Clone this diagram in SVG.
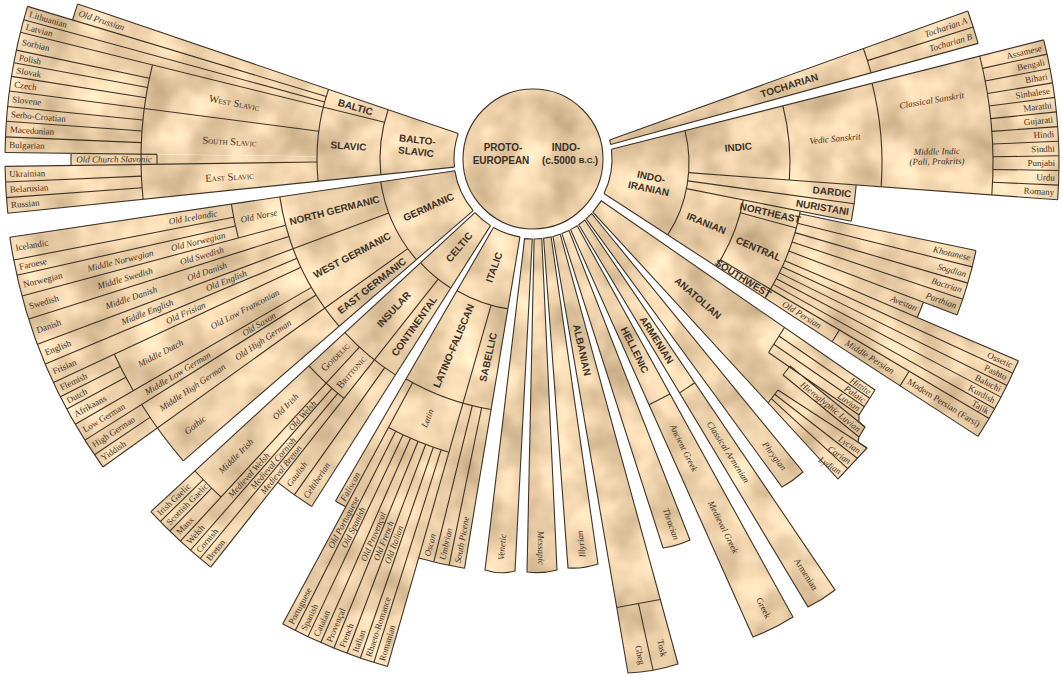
<svg xmlns="http://www.w3.org/2000/svg" width="1062" height="678" viewBox="0 0 1062 678">
<defs>
<filter id="parch" filterUnits="userSpaceOnUse" x="-700" y="-700" width="1800" height="1500" color-interpolation-filters="sRGB">
<feTurbulence type="fractalNoise" baseFrequency="0.022" numOctaves="3" seed="5" result="n"/>
<feColorMatrix in="n" type="matrix" values="0.4 0 0 0 0.73 0.4 0 0 0 0.62 0.4 0 0 0 0.47 0 0 0 0 1" result="c"/>
<feComposite in="c" in2="SourceGraphic" operator="in"/>
</filter>
<clipPath id="ring"><path clip-rule="evenodd" d="M0 0H1062V678H0Z M612 159A79 79 0 1 0 454 159A79 79 0 1 0 612 159Z"/></clipPath>
<style>
.fl{fill:none;stroke:#e8cfa8}
.sf{fill:#e8cfa8}
.l,.a{fill:none;stroke:#3f3426;stroke-width:1.1}
text{fill:#3a3126;dominant-baseline:central}
.n{font-family:"Liberation Serif",serif;font-size:9px}
.x{font-family:"Liberation Serif",serif;font-size:9px;font-style:italic}
.b{font-family:"Liberation Sans",sans-serif;font-weight:bold;font-size:10px}
.s{font-family:"Liberation Serif",serif;font-size:10.5px;font-variant:small-caps}
.m{text-anchor:middle}
.e{text-anchor:end}
</style>
</defs>
<rect width="1062" height="678" fill="#ffffff"/>

<g id="connectors"/>

<g id="proto-indo-european">
<circle cx="533" cy="159" r="70" class="sf" filter="url(#parch)"/>
<circle cx="533" cy="159" r="70" class="l"/>
<text class="b m" x="503" y="147" font-size="10.5">PROTO-</text>
<text class="b m" x="501" y="160" font-size="10.5">EUROPEAN</text>
<text class="b m" x="566" y="147" font-size="10.5">INDO-</text>
<text class="b m" x="570" y="160" font-size="10.5">(c.5000 <tspan font-size="8">B.C.</tspan>)</text>
</g>

<g id="balto-slavic" transform="translate(533,159)">
<g filter="url(#parch)">
<circle class="fl" r="147.5" stroke-width="137" pathLength="360" stroke-dasharray="24.7 999" transform="rotate(174.1)"/>
<circle class="fl" r="372" stroke-width="312" pathLength="360" stroke-dasharray="16.1 999" transform="rotate(180.7)"/>
<circle class="fl" r="372" stroke-width="312" pathLength="360" stroke-dasharray="5.1 999" transform="rotate(174.1)"/>
<circle class="fl" r="339" stroke-width="246" pathLength="360" stroke-dasharray="1.5 999" transform="rotate(179.2)"/>
<circle class="fl" r="348.5" stroke-width="265" pathLength="360" stroke-dasharray="2 999" transform="rotate(196.8)"/>
</g>
<path class="l" d="M79 0H481" transform="rotate(198.8)"/>
<path class="l" d="M79 0H528" transform="rotate(174.1)"/>
<path class="l" d="M153 0H528" transform="rotate(193.9)"/>
<path class="l" d="M216 0H528" transform="rotate(196.8)"/>
<path class="l" d="M216 0H528" transform="rotate(195.3)"/>
<path class="l" d="M216 0H528" transform="rotate(187.4)"/>
<path class="l" d="M216 0H528" transform="rotate(179.2)"/>
<path class="l" d="M376 0H528" transform="rotate(180.7)"/>
<path class="l" d="M392 0H528" transform="rotate(191.9)"/>
<path class="l" d="M392 0H528" transform="rotate(190.5)"/>
<path class="l" d="M392 0H528" transform="rotate(189)"/>
<path class="l" d="M392 0H528" transform="rotate(185.7)"/>
<path class="l" d="M392 0H528" transform="rotate(184.1)"/>
<path class="l" d="M392 0H528" transform="rotate(182.4)"/>
<path class="l" d="M392 0H528" transform="rotate(177.5)"/>
<path class="l" d="M392 0H528" transform="rotate(175.8)"/>
<circle class="a" r="79" pathLength="360" stroke-dasharray="24.7 999" transform="rotate(174.1)"/>
<circle class="a" r="153" pathLength="360" stroke-dasharray="24.7 999" transform="rotate(174.1)"/>
<circle class="a" r="216" pathLength="360" stroke-dasharray="24.7 999" transform="rotate(174.1)"/>
<circle class="a" r="392" pathLength="360" stroke-dasharray="19.8 999" transform="rotate(174.1)"/>
<circle class="a" r="376" pathLength="360" stroke-dasharray="1.5 999" transform="rotate(179.2)"/>
<circle class="a" r="481" pathLength="360" stroke-dasharray="2 999" transform="rotate(196.8)"/>
<circle class="a" r="528" pathLength="360" stroke-dasharray="16.1 999" transform="rotate(180.7)"/>
<circle class="a" r="528" pathLength="360" stroke-dasharray="5.1 999" transform="rotate(174.1)"/>
<circle class="a" r="462" pathLength="360" stroke-dasharray="1.5 999" transform="rotate(179.2)"/>
<text class="b m" font-size="10.5" transform="rotate(6.5)" x="-117" y="-6">BALTO-</text>
<text class="b m" font-size="10.5" transform="rotate(6.5)" x="-117" y="6">SLAVIC</text>
<text class="b m" font-size="9" transform="rotate(16.3)" x="-185">BALTIC</text>
<text class="b m" transform="rotate(4)" x="-185">SLAVIC</text>
<text class="s m" transform="rotate(10.65)" x="-304">West Slavic</text>
<text class="s m" transform="rotate(3.3)" x="-304">South Slavic</text>
<text class="s m" transform="rotate(-3.35)" x="-304">East Slavic</text>
<text class="x" transform="rotate(17.8)" x="-477">Old Prussian</text>
<text class="n" transform="rotate(16.05)" x="-524">Lithuanian</text>
<text class="n" transform="rotate(14.6)" x="-524">Latvian</text>
<text class="n" transform="rotate(12.9)" x="-524">Sorbian</text>
<text class="n" transform="rotate(11.2)" x="-524">Polish</text>
<text class="n" transform="rotate(9.75)" x="-524">Slovak</text>
<text class="n" transform="rotate(8.2)" x="-524">Czech</text>
<text class="n" transform="rotate(6.55)" x="-524">Slovene</text>
<text class="n" transform="rotate(4.9)" x="-524">Serbo-Croatian</text>
<text class="n" transform="rotate(3.25)" x="-524">Macedonian</text>
<text class="n" transform="rotate(1.55)" x="-524">Bulgarian</text>
<text class="x m" font-size="8.5" transform="rotate(-0.05)" x="-419">Old Church Slavonic</text>
<text class="n" transform="rotate(-1.65)" x="-524">Ukrainian</text>
<text class="n" transform="rotate(-3.35)" x="-524">Belarusian</text>
<text class="n" transform="rotate(-5.05)" x="-524">Russian</text>
</g>

<g id="germanic" transform="translate(533,159)">
<g filter="url(#parch)">
<circle class="fl" r="167.5" stroke-width="177" pathLength="360" stroke-dasharray="32.3 999" transform="rotate(139.2)"/>
<circle class="fl" r="392.5" stroke-width="273" pathLength="360" stroke-dasharray="27.1 999" transform="rotate(144.4)"/>
<circle class="fl" r="359" stroke-width="206" pathLength="360" stroke-dasharray="5.2 999" transform="rotate(139.2)"/>
</g>
<path class="l" d="M79 0H529" transform="rotate(171.5)"/>
<path class="l" d="M79 0H462" transform="rotate(139.2)"/>
<path class="l" d="M154 0H529" transform="rotate(159.5)"/>
<path class="l" d="M154 0H529" transform="rotate(144.4)"/>
<path class="l" d="M256 0H529" transform="rotate(165)"/>
<path class="l" d="M305 0H529" transform="rotate(169)"/>
<path class="l" d="M305 0H529" transform="rotate(167.3)"/>
<path class="l" d="M256 0H529" transform="rotate(162.4)"/>
<path class="l" d="M256 0H529" transform="rotate(157.2)"/>
<path class="l" d="M256 0H529" transform="rotate(155)"/>
<path class="l" d="M256 0H529" transform="rotate(149.9)"/>
<path class="l" d="M256 0H529" transform="rotate(147.9)"/>
<path class="l" d="M462 0H529" transform="rotate(153.3)"/>
<path class="l" d="M462 0H529" transform="rotate(151.8)"/>
<path class="l" d="M462 0H529" transform="rotate(146)"/>
<circle class="a" r="79" pathLength="360" stroke-dasharray="32.3 999" transform="rotate(139.2)"/>
<circle class="a" r="154" pathLength="360" stroke-dasharray="32.3 999" transform="rotate(139.2)"/>
<circle class="a" r="256" pathLength="360" stroke-dasharray="32.3 999" transform="rotate(139.2)"/>
<circle class="a" r="305" pathLength="360" stroke-dasharray="6.5 999" transform="rotate(165)"/>
<circle class="a" r="462" pathLength="360" stroke-dasharray="8.7 999" transform="rotate(139.2)"/>
<circle class="a" r="462" pathLength="360" stroke-dasharray="5.1 999" transform="rotate(149.9)"/>
<circle class="a" r="529" pathLength="360" stroke-dasharray="27.1 999" transform="rotate(144.4)"/>
<text class="b m" font-size="10.5" transform="rotate(-24.7)" x="-115">GERMANIC</text>
<text class="b m" font-size="9.5" transform="rotate(-14.5)" x="-205">NORTH GERMANIC</text>
<text class="b m" font-size="9.5" transform="rotate(-28)" x="-205">WEST GERMANIC</text>
<text class="b m" font-size="9" transform="rotate(-38.2)" x="-205">EAST GERMANIC</text>
<text class="x m" transform="rotate(-11.75)" x="-280">Old Norse</text>
<text class="x m" transform="rotate(-9.75)" x="-345">Old Icelandic</text>
<text class="n" transform="rotate(-9.75)" x="-525">Icelandic</text>
<text class="n" transform="rotate(-11.85)" x="-525">Faroese</text>
<text class="x m" transform="rotate(-13.85)" x="-345">Old Norwegian</text>
<text class="x m" transform="rotate(-13.85)" x="-425">Middle Norwegian</text>
<text class="n" transform="rotate(-13.85)" x="-525">Norwegian</text>
<text class="x m" transform="rotate(-16.3)" x="-345">Old Swedish</text>
<text class="x m" transform="rotate(-16.3)" x="-425">Middle Swedish</text>
<text class="n" transform="rotate(-16.3)" x="-525">Swedish</text>
<text class="x m" transform="rotate(-19.05)" x="-345">Old Danish</text>
<text class="x m" transform="rotate(-19.05)" x="-425">Middle Danish</text>
<text class="n" transform="rotate(-19.05)" x="-525">Danish</text>
<text class="x m" transform="rotate(-21.65)" x="-330">Old English</text>
<text class="x m" transform="rotate(-21.65)" x="-415">Middle English</text>
<text class="n" transform="rotate(-21.65)" x="-525">English</text>
<text class="x m" transform="rotate(-23.9)" x="-380">Old Frisian</text>
<text class="n" transform="rotate(-23.9)" x="-525">Frisian</text>
<text class="x m" transform="rotate(-27.55)" x="-325">Old Low Franconian</text>
<text class="x m" transform="rotate(-27.55)" x="-420">Middle Dutch</text>
<text class="n" transform="rotate(-25.85)" x="-525">Flemish</text>
<text class="n" transform="rotate(-27.45)" x="-525">Dutch</text>
<text class="n" transform="rotate(-29.15)" x="-525">Afrikaans</text>
<text class="x m" transform="rotate(-31.1)" x="-320">Old Saxon</text>
<text class="x m" transform="rotate(-31.1)" x="-415">Middle Low German</text>
<text class="n" transform="rotate(-31.1)" x="-525">Low German</text>
<text class="x m" transform="rotate(-33.85)" x="-325">Old High German</text>
<text class="x m" transform="rotate(-33.85)" x="-410">Middle High German</text>
<text class="n" transform="rotate(-33.05)" x="-525">High German</text>
<text class="n" transform="rotate(-34.8)" x="-525">Yiddish</text>
<text class="x m" transform="rotate(-38.2)" x="-430">Gothic</text>
</g>

<g id="celtic" transform="translate(533,159)">
<g filter="url(#parch)">
<circle class="fl" r="167.5" stroke-width="177" pathLength="360" stroke-dasharray="14.8 999" transform="rotate(122.5)"/>
<circle class="fl" r="388" stroke-width="264" pathLength="360" stroke-dasharray="9 999" transform="rotate(128.3)"/>
<circle class="fl" r="334" stroke-width="156" pathLength="360" stroke-dasharray="5.8 999" transform="rotate(122.5)"/>
</g>
<path class="l" d="M79 0H520" transform="rotate(137.3)"/>
<path class="l" d="M79 0H412" transform="rotate(122.5)"/>
<path class="l" d="M153 0H520" transform="rotate(128.3)"/>
<path class="l" d="M256 0H520" transform="rotate(132.7)"/>
<path class="l" d="M256 0H412" transform="rotate(125.4)"/>
<path class="l" d="M460 0H520" transform="rotate(135.8)"/>
<path class="l" d="M460 0H520" transform="rotate(134.3)"/>
<path class="l" d="M305 0H520" transform="rotate(131.2)"/>
<path class="l" d="M305 0H520" transform="rotate(129.8)"/>
<circle class="a" r="79" pathLength="360" stroke-dasharray="14.8 999" transform="rotate(122.5)"/>
<circle class="a" r="153" pathLength="360" stroke-dasharray="14.8 999" transform="rotate(122.5)"/>
<circle class="a" r="256" pathLength="360" stroke-dasharray="14.8 999" transform="rotate(122.5)"/>
<circle class="a" r="305" pathLength="360" stroke-dasharray="9 999" transform="rotate(128.3)"/>
<circle class="a" r="460" pathLength="360" stroke-dasharray="4.6 999" transform="rotate(132.7)"/>
<circle class="a" r="520" pathLength="360" stroke-dasharray="9 999" transform="rotate(128.3)"/>
<circle class="a" r="412" pathLength="360" stroke-dasharray="5.8 999" transform="rotate(122.5)"/>
<text class="b m" font-size="10.5" transform="rotate(-50)" x="-115">CELTIC</text>
<text class="b m" font-size="9.5" transform="rotate(-47.2)" x="-205">INSULAR</text>
<text class="b m" font-size="9" transform="rotate(-54.6)" x="-205">CONTINENTAL</text>
<text class="s m" font-size="8.5" transform="rotate(-45)" x="-280">Goidelic</text>
<text class="s m" font-size="8.5" transform="rotate(-49.5)" x="-280">Brittonic</text>
<text class="x m" transform="rotate(-45)" x="-350">Old Irish</text>
<text class="x m" transform="rotate(-45)" x="-420">Middle Irish</text>
<text class="n" transform="rotate(-43.45)" x="-516">Irish Gaelic</text>
<text class="n" transform="rotate(-44.95)" x="-516">Scottish Gaelic</text>
<text class="n" transform="rotate(-46.5)" x="-516">Manx</text>
<text class="x m" font-size="8.5" transform="rotate(-48.05)" x="-345">Old Welsh</text>
<text class="x m" font-size="8.5" transform="rotate(-48.05)" x="-425">Medieval Welsh</text>
<text class="n" font-size="8.5" transform="rotate(-48.05)" x="-516">Welsh</text>
<text class="x m" font-size="8.5" transform="rotate(-49.5)" x="-400">Medieval Cornish</text>
<text class="n" font-size="8.5" transform="rotate(-49.5)" x="-516">Cornish</text>
<text class="x m" font-size="8.5" transform="rotate(-50.95)" x="-400">Medieval Breton</text>
<text class="n" font-size="8.5" transform="rotate(-50.95)" x="-516">Breton</text>
<text class="x" transform="rotate(-53.15)" x="-408">Gaulish</text>
<text class="x" transform="rotate(-56.05)" x="-408">Celtiberian</text>
</g>

<g id="italic" transform="translate(533,159)">
<g filter="url(#parch)">
<circle class="fl" r="166.5" stroke-width="175" pathLength="360" stroke-dasharray="20.5 999" transform="rotate(99.5)"/>
<circle class="fl" r="324.5" stroke-width="141" pathLength="360" stroke-dasharray="1.7 999" transform="rotate(118.3)"/>
<circle class="fl" r="391" stroke-width="274" pathLength="360" stroke-dasharray="12.3 999" transform="rotate(106)"/>
<circle class="fl" r="334.5" stroke-width="161" pathLength="360" stroke-dasharray="6.5 999" transform="rotate(99.5)"/>
</g>
<path class="l" d="M79 0H395" transform="rotate(120)"/>
<path class="l" d="M79 0H415" transform="rotate(99.5)"/>
<path class="l" d="M152 0H528" transform="rotate(106)"/>
<path class="l" d="M254 0H528" transform="rotate(118.3)"/>
<path class="l" d="M305 0H528" transform="rotate(116.76)"/>
<path class="l" d="M305 0H528" transform="rotate(115.23)"/>
<path class="l" d="M305 0H528" transform="rotate(113.69)"/>
<path class="l" d="M305 0H528" transform="rotate(112.15)"/>
<path class="l" d="M305 0H528" transform="rotate(110.61)"/>
<path class="l" d="M305 0H528" transform="rotate(109.08)"/>
<path class="l" d="M305 0H528" transform="rotate(107.54)"/>
<path class="l" d="M254 0H415" transform="rotate(103.83)"/>
<path class="l" d="M254 0H415" transform="rotate(101.67)"/>
<circle class="a" r="79" pathLength="360" stroke-dasharray="20.5 999" transform="rotate(99.5)"/>
<circle class="a" r="152" pathLength="360" stroke-dasharray="20.5 999" transform="rotate(99.5)"/>
<circle class="a" r="254" pathLength="360" stroke-dasharray="20.5 999" transform="rotate(99.5)"/>
<circle class="a" r="305" pathLength="360" stroke-dasharray="12.3 999" transform="rotate(106)"/>
<circle class="a" r="395" pathLength="360" stroke-dasharray="1.7 999" transform="rotate(118.3)"/>
<circle class="a" r="528" pathLength="360" stroke-dasharray="12.3 999" transform="rotate(106)"/>
<circle class="a" r="415" pathLength="360" stroke-dasharray="6.5 999" transform="rotate(99.5)"/>
<text class="b m" font-size="10.5" transform="rotate(-70.25)" x="-115">ITALIC</text>
<text class="b m" font-size="9.5" transform="rotate(-67)" x="-203">LATINO-FALISCAN</text>
<text class="b m" font-size="9.5" transform="rotate(-77.25)" x="-203">SABELLIC</text>
<text class="x m" transform="rotate(-67.85)" x="-280">Latin</text>
<text class="x" transform="rotate(-60.85)" x="-391">Faliscan</text>
<text class="x m" transform="rotate(-62.47)" x="-410">Old Portuguese</text>
<text class="x m" transform="rotate(-64.01)" x="-410">Old Spanish</text>
<text class="x m" transform="rotate(-67.08)" x="-410">Old Provençal</text>
<text class="x m" transform="rotate(-68.62)" x="-410">Old French</text>
<text class="x m" transform="rotate(-70.16)" x="-410">Old Italian</text>
<text class="n" transform="rotate(-62.47)" x="-524">Portuguese</text>
<text class="n" transform="rotate(-64.01)" x="-524">Spanish</text>
<text class="n" transform="rotate(-65.54)" x="-524">Catalan</text>
<text class="n" transform="rotate(-67.08)" x="-524">Provençal</text>
<text class="n" transform="rotate(-68.62)" x="-524">French</text>
<text class="n" transform="rotate(-70.16)" x="-524">Italian</text>
<text class="n" transform="rotate(-71.69)" x="-524">Rhaeto-Romance</text>
<text class="n" transform="rotate(-73.23)" x="-524">Romanian</text>
<text class="x" transform="rotate(-75.08)" x="-411">Oscan</text>
<text class="x" transform="rotate(-77.25)" x="-411">Umbrian</text>
<text class="x" transform="rotate(-79.42)" x="-411">South Picene</text>
</g>

<g id="venetic">
<path class="sf" filter="url(#parch)" d="M524.6,238.6 L532.3,239 L515,571 Q500,575 485,570 Z"/>
<path class="l" d="M524.6,238.6 L532.3,239 L515,571 Q500,575 485,570 Z"/>
<text class="x m" font-size="8.5" transform="translate(502,547) rotate(-85.1)">Venetic</text>
</g>
<g id="messapic">
<path class="sf" filter="url(#parch)" d="M534.1,239 L541.8,238.5 L557,570 Q542,574 527,572 Z"/>
<path class="l" d="M534.1,239 L541.8,238.5 L557,570 Q542,574 527,572 Z"/>
<text class="x m" font-size="8.5" transform="translate(541,548) rotate(89.3)">Messapic</text>
</g>
<g id="illyrian">
<path class="sf" filter="url(#parch)" d="M543.6,238.3 L551.1,236.9 L598,564 Q583,569 568,568 Z"/>
<path class="l" d="M543.6,238.3 L551.1,236.9 L598,564 Q583,569 568,568 Z"/>
<text class="x m" font-size="8.5" transform="translate(581,544) rotate(-96.2)">Illyrian</text>
</g>
<g id="albanian">
<path class="sf" filter="url(#parch)" d="M552.9,236.5 L560.2,234.2 L678,664 Q653,672 628,673 Z"/>
<path class="l" d="M552.9,236.5 L560.2,234.2 L678,664 Q653,672 628,673 Z"/>
<path class="l" d="M616.7,607.5 L660.3,599.5 M638.5,603.5 L653,670"/>
<text class="b m" transform="translate(582,350) rotate(77.5)">ALBANIAN</text>
<text class="n m" font-size="8.5" transform="translate(640,655) rotate(77.5)">Gheg</text>
<text class="n m" font-size="8.5" transform="translate(662,648) rotate(77.5)">Tosk</text>
</g>
<g id="thracian">
<path class="sf" filter="url(#parch)" d="M561.9,233.6 L569,230.5 L690,540 Q677,546 663,548 Z"/>
<path class="l" d="M561.9,233.6 L569,230.5 L690,540 Q677,546 663,548 Z"/>
<text class="x m" font-size="8.5" transform="translate(671,524) rotate(70.4)">Thracian</text>
</g>
<g id="hellenic">
<path class="sf" filter="url(#parch)" d="M570.6,229.6 L577.2,225.7 L793,617 Q774,629 753,637 Z"/>
<path class="l" d="M570.6,229.6 L577.2,225.7 L793,617 Q774,629 753,637 Z"/>
<path class="l" d="M649,404.8 L670,393.9"/>
<text class="b m" transform="translate(634.8,350) rotate(63.5)">HELLENIC</text>
<text class="x m" transform="translate(683.8,448) rotate(63.5)">Ancient Greek</text>
<text class="x m" transform="translate(723.2,527) rotate(63.5)">Medieval Greek</text>
<text class="n m" transform="translate(763.5,608) rotate(63.5)">Greek</text>
</g>
<g id="armenian">
<path class="sf" filter="url(#parch)" d="M578.7,224.7 L584.7,220 L835,590 Q822,600 808,607 Z"/>
<path class="l" d="M578.7,224.7 L584.7,220 L835,590 Q822,600 808,607 Z"/>
<path class="l" d="M679.6,392.9 L694.8,382.8"/>
<text class="b m" transform="translate(656.7,340) rotate(57.5)">ARMENIAN</text>
<text class="x m" transform="translate(728.1,452) rotate(57.5)">Classical Armenian</text>
<text class="n m" transform="translate(805.9,574) rotate(57.5)">Armenian</text>
</g>
<g id="phrygian">
<path class="sf" filter="url(#parch)" d="M586.1,218.8 L591.6,213.5 L803,472 Q793,481 782,487 Z"/>
<path class="l" d="M586.1,218.8 L591.6,213.5 L803,472 Q793,481 782,487 Z"/>
<text class="x m" transform="translate(774.5,456) rotate(52.3)">Phrygian</text>
</g>
<g id="anatolian">
<path class="sf" filter="url(#parch)" d="M601.2,200.8 L875,390 L859,415 L859,422 L865,427 L859,437 L858,442 L867,448 L838,479 L592.8,212.1 Z"/>
<path class="l" d="M601.2,200.8 L875,390 L859,415 L859,422 L865,427 L859,437 L858,442 L867,448 L838,479 L592.8,212.1 Z"/>
<path class="l" d="M784.5,327.5 L768.5,352.5 M779,336 L869.7,398.3 M773.8,344.2 L864.3,406.7 M768.5,352.5 L859,415 M790,366 L783,375 M790,366 L865,427 M783,375 L859,437 M778,390 L768,403 M778,390 L867,448 M774.7,394.3 L857.3,458.3 M771.3,398.7 L847.7,468.7"/>
<text class="b m" font-size="10.5" transform="translate(698,298) rotate(41)">ANATOLIAN</text>
<text class="x e" font-size="8" transform="translate(869.9,392.5) rotate(34.6)">Hittite</text>
<text class="x e" font-size="8" transform="translate(864.5,400.8) rotate(34.6)">Palaic</text>
<text class="x e" font-size="8" transform="translate(859.2,409.2) rotate(34.6)">Luvian</text>
<text class="x e" font-size="8" transform="translate(859.5,430.2) rotate(39)">Hieroglyphic Luvian</text>
<text class="x e" font-size="8" transform="translate(859.7,451.5) rotate(33)">Lycian</text>
<text class="x e" font-size="8" transform="translate(850,461.8) rotate(33)">Carian</text>
<text class="x e" font-size="8" transform="translate(840.4,472.2) rotate(33)">Lydian</text>
</g>

<g id="indo-iranian">
<g clip-path="url(#ring)">
<g transform="translate(557,163)">
<g filter="url(#parch)">
<circle class="fl" r="86" stroke-width="92" pathLength="360" stroke-dasharray="47.2 999" transform="rotate(-14.2)"/>
<circle class="fl" r="317" stroke-width="370" pathLength="360" stroke-dasharray="18.4 999" transform="rotate(-14.2)"/>
<circle class="fl" r="216" stroke-width="168" pathLength="360" stroke-dasharray="7 999" transform="rotate(4.2)"/>
<circle class="fl" r="190" stroke-width="116" pathLength="360" stroke-dasharray="21.8 999" transform="rotate(11.2)"/>
<circle class="fl" r="338" stroke-width="180" pathLength="360" stroke-dasharray="9 999" transform="rotate(11.8)"/>
<circle class="fl" r="320" stroke-width="144" pathLength="360" stroke-dasharray="2.4 999" transform="rotate(20.8)"/>
<circle class="fl" r="375" stroke-width="254" pathLength="360" stroke-dasharray="9.8 999" transform="rotate(23.2)"/>
</g>
<path class="l" d="M56 0H502" transform="rotate(-14.2)"/>
<path class="l" d="M56 0H502" transform="rotate(33)"/>
<path class="l" d="M132 0H502" transform="rotate(4.2)"/>
<path class="l" d="M436 0H502" transform="rotate(-12.53)"/>
<path class="l" d="M436 0H502" transform="rotate(-10.85)"/>
<path class="l" d="M436 0H502" transform="rotate(-9.18)"/>
<path class="l" d="M436 0H502" transform="rotate(-7.51)"/>
<path class="l" d="M436 0H502" transform="rotate(-5.84)"/>
<path class="l" d="M436 0H502" transform="rotate(-4.16)"/>
<path class="l" d="M436 0H502" transform="rotate(-2.49)"/>
<path class="l" d="M436 0H502" transform="rotate(-0.82)"/>
<path class="l" d="M436 0H502" transform="rotate(0.85)"/>
<path class="l" d="M436 0H502" transform="rotate(2.53)"/>
<path class="l" d="M132 0H300" transform="rotate(7.8)"/>
<path class="l" d="M132 0H300" transform="rotate(11.2)"/>
<path class="l" d="M190 0H248" transform="rotate(15.2)"/>
<path class="l" d="M190 0H502" transform="rotate(30.6)"/>
<path class="l" d="M248 0H428" transform="rotate(11.8)"/>
<path class="l" d="M248 0H428" transform="rotate(14.05)"/>
<path class="l" d="M248 0H428" transform="rotate(16.3)"/>
<path class="l" d="M248 0H428" transform="rotate(18.55)"/>
<path class="l" d="M248 0H428" transform="rotate(20.8)"/>
<path class="l" d="M248 0H502" transform="rotate(23.2)"/>
<path class="l" d="M248 0H502" transform="rotate(24.75)"/>
<path class="l" d="M248 0H502" transform="rotate(26.3)"/>
<path class="l" d="M248 0H502" transform="rotate(27.8)"/>
<path class="l" d="M248 0H502" transform="rotate(29.3)"/>
<circle class="a" r="132" pathLength="360" stroke-dasharray="47.2 999" transform="rotate(-14.2)"/>
<circle class="a" r="233" pathLength="360" stroke-dasharray="18.4 999" transform="rotate(-14.2)"/>
<circle class="a" r="325" pathLength="360" stroke-dasharray="18.4 999" transform="rotate(-14.2)"/>
<circle class="a" r="436" pathLength="360" stroke-dasharray="18.4 999" transform="rotate(-14.2)"/>
<circle class="a" r="502" pathLength="360" stroke-dasharray="18.4 999" transform="rotate(-14.2)"/>
<circle class="a" r="300" pathLength="360" stroke-dasharray="7 999" transform="rotate(4.2)"/>
<circle class="a" r="190" pathLength="360" stroke-dasharray="21.8 999" transform="rotate(11.2)"/>
<circle class="a" r="248" pathLength="360" stroke-dasharray="21.8 999" transform="rotate(11.2)"/>
<circle class="a" r="428" pathLength="360" stroke-dasharray="9 999" transform="rotate(11.8)"/>
<circle class="a" r="392" pathLength="360" stroke-dasharray="2.4 999" transform="rotate(20.8)"/>
<circle class="a" r="502" pathLength="360" stroke-dasharray="9.8 999" transform="rotate(23.2)"/>
<circle class="a" r="328" pathLength="360" stroke-dasharray="2.4 999" transform="rotate(30.6)"/>
<circle class="a" r="409" pathLength="360" stroke-dasharray="2.4 999" transform="rotate(30.6)"/>
<text class="b m" font-size="10.5" transform="rotate(12)" x="95" y="-6">INDO-</text>
<text class="b m" font-size="10.5" transform="rotate(12)" x="95" y="6">IRANIAN</text>
<text class="b m" font-size="11" transform="rotate(-5)" x="182">INDIC</text>
<text class="x m" font-size="9.5" transform="rotate(-5)" x="279">Vedic Sanskrit</text>
<text class="x m" font-size="9.5" transform="rotate(-9.5)" x="380">Classical Sanskrit</text>
<text class="x m" font-size="9.5" transform="rotate(-1)" x="380" y="-5">Middle Indic</text>
<text class="x m" font-size="9.5" transform="rotate(-1)" x="380" y="5">(Pali, Prakrits)</text>
<text class="n e" transform="rotate(-13.36)" x="498">Assamese</text>
<text class="n e" transform="rotate(-11.69)" x="498">Bengali</text>
<text class="n e" transform="rotate(-10.02)" x="498">Bihari</text>
<text class="n e" transform="rotate(-8.35)" x="498">Sinhalese</text>
<text class="n e" transform="rotate(-6.67)" x="498">Marathi</text>
<text class="n e" transform="rotate(-5)" x="498">Gujarati</text>
<text class="n e" transform="rotate(-3.33)" x="498">Hindi</text>
<text class="n e" transform="rotate(-1.65)" x="498">Sindhi</text>
<text class="n e" transform="rotate(0.02)" x="498">Punjabi</text>
<text class="n e" transform="rotate(1.69)" x="498">Urdu</text>
<text class="n e" transform="rotate(3.36)" x="498">Romany</text>
<text class="b e" font-size="9.5" transform="rotate(6)" x="296">DARDIC</text>
<text class="b e" font-size="9.5" transform="rotate(9.5)" x="296">NURISTANI</text>
<text class="b m" transform="rotate(22)" x="161">IRANIAN</text>
<text class="b m" font-size="8" transform="rotate(13.2)" x="219">NORTHEAST</text>
<text class="b m" transform="rotate(23.1)" x="219">CENTRAL</text>
<text class="b m" font-size="8" transform="rotate(31.8)" x="219">SOUTHWEST</text>
<text class="x e" transform="rotate(12.9)" x="424">Khotanese</text>
<text class="x e" transform="rotate(15.2)" x="424">Sogdian</text>
<text class="x e" transform="rotate(17.4)" x="424">Bactrian</text>
<text class="x e" transform="rotate(19.7)" x="424">Parthian</text>
<text class="x e" transform="rotate(22)" x="388">Avestan</text>
<text class="x m" transform="rotate(31.8)" x="288">Old Persian</text>
<text class="x m" transform="rotate(31.8)" x="368">Middle Persian</text>
<text class="n m" transform="rotate(31.8)" x="455">Modern Persian (Farsi)</text>
<text class="n e" transform="rotate(23.97)" x="498">Ossetic</text>
<text class="n e" transform="rotate(25.5)" x="498">Pashto</text>
<text class="n e" transform="rotate(27.05)" x="498">Baluchi</text>
<text class="n e" transform="rotate(28.55)" x="498">Kurdish</text>
<text class="n e" transform="rotate(29.95)" x="498">Tajik</text>
</g>
</g>
<circle class="a" cx="533" cy="159" r="79" pathLength="360" stroke-dasharray="33.05 999" transform="rotate(-7.1 533 159)"/>
</g>

<g id="tocharian">
<g clip-path="url(#ring)">
<g transform="translate(551,161)">
<g filter="url(#parch)">
<circle class="fl" r="251.5" stroke-width="383" pathLength="360" stroke-dasharray="4.4 999" transform="rotate(-19.8)"/>
</g>
<path class="l" d="M60 0H443" transform="rotate(-19.8)"/>
<path class="l" d="M60 0H443" transform="rotate(-15.4)"/>
<path class="l" d="M332 0H443" transform="rotate(-17.6)"/>
<circle class="a" r="332" pathLength="360" stroke-dasharray="4.4 999" transform="rotate(-19.8)"/>
<circle class="a" r="443" pathLength="360" stroke-dasharray="4.4 999" transform="rotate(-19.8)"/>
<text class="b m" font-size="10.5" transform="rotate(-17.6)" x="250">TOCHARIAN</text>
<text class="x e" font-size="8.5" transform="rotate(-18.7)" x="439">Tocharian A</text>
<text class="x e" font-size="8.5" transform="rotate(-16.5)" x="439">Tocharian B</text>
</g>
</g>
<circle class="a" cx="533" cy="159" r="79" pathLength="360" stroke-dasharray="3.4 999" transform="rotate(-14 533 159)"/>
</g>
</svg>
